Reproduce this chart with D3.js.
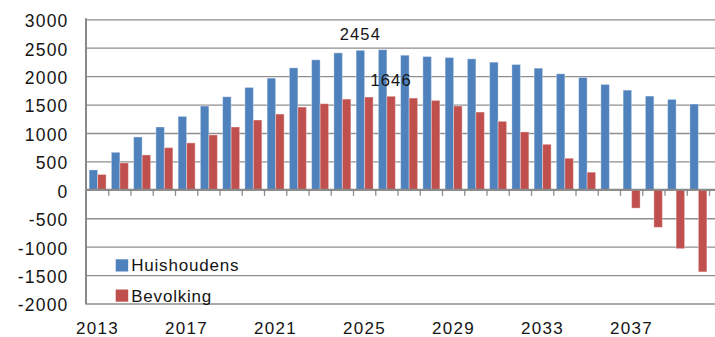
<!DOCTYPE html>
<html>
<head>
<meta charset="utf-8">
<script src="https://cdn.jsdelivr.net/npm/d3@7"></script>
<style>
  html, body { margin: 0; padding: 0; background: #fff; }
  svg { display: block; }
  text { font-family: "Liberation Sans", Arial, sans-serif; fill: #141414; }
</style>
</head>
<body>
<svg id="chart" width="715" height="337"></svg>
<script>
// Yearly change in households and population, 2013–2040
const years = d3.range(2013, 2041);
const huishoudens = [350, 660, 930, 1105, 1292, 1474, 1637, 1801, 1965, 2146,
  2287, 2409, 2454, 2465, 2368, 2345, 2328, 2304, 2246, 2205,
  2140, 2041, 1977, 1854, 1754, 1649, 1591, 1509];
const bevolking = [270, 474, 614, 742, 825, 965, 1105, 1228, 1333, 1456,
  1515, 1596, 1632, 1646, 1614, 1573, 1474, 1368, 1205, 1018,
  801, 556, 310, 10, -322, -661, -1035, -1444];
const seriesNames = ["Huishoudens", "Bevolking"];
const seriesColors = ["#4F81BD", "#C0504D"];
const yTicks = [-2000, -1500, -1000, -500, 0, 500, 1000, 1500, 2000, 2500, 3000];
const xTickLabels = [2013, 2017, 2021, 2025, 2029, 2033, 2037];
// values printed above their bars
const annotations = [
  { year: 2025, series: "Huishoudens", value: 2454 },
  { year: 2026, series: "Bevolking", value: 1646 }
];

const svg = d3.select("#chart");
const plotLeft = 86.5, plotRight = 709.5, plotTop = 19.3, plotBottom = 303.5;

const x0 = d3.scaleBand().domain(years).range([plotLeft, plotRight]).padding(0);
const x1 = d3.scaleBand().domain(seriesNames).range([0, x0.bandwidth()])
  .paddingInner(0).paddingOuter(0.31);
const y = d3.scaleLinear().domain([-2000, 3000]).range([plotBottom, plotTop]);

// plain integer labels with an ASCII hyphen for negatives
const plainNumber = d => String(d);

// horizontal gridlines
const grid = svg.append("g").attr("transform", `translate(${plotLeft},0)`)
  .call(d3.axisLeft(y).tickValues(yTicks).tickSize(-(715 - plotLeft)).tickFormat(""));
grid.select(".domain").remove();
grid.selectAll(".tick line").attr("stroke", "#8e8e8e").attr("stroke-width", 1.3);

// y axis labels
const yAxis = svg.append("g").attr("transform", `translate(${plotLeft},0)`)
  .call(d3.axisLeft(y).tickValues(yTicks).tickSize(0).tickPadding(18).tickFormat(plainNumber));
yAxis.select(".domain").remove();
yAxis.selectAll("text")
  .attr("font-size", 17.5).attr("letter-spacing", 1.2).attr("dy", "0.42em")
  .style("font-family", "'Liberation Sans', Arial, sans-serif").attr("fill", "#141414");

// bars
const data = years.map((yr, i) => ({ year: yr, values: [huishoudens[i], bevolking[i]] }));
const groups = svg.append("g").selectAll("g").data(data).join("g")
  .attr("transform", d => `translate(${x0(d.year)},0)`);
groups.selectAll("rect")
  .data(d => d.values.map((v, k) => ({ name: seriesNames[k], value: v, k })))
  .join("rect")
  .attr("x", d => x1(d.name))
  .attr("width", x1.bandwidth())
  .attr("y", d => y(Math.max(0, d.value)))
  .attr("height", d => Math.abs(y(d.value) - y(0)))
  .attr("fill", d => seriesColors[d.k])
  .attr("stroke", "#ffffff").attr("stroke-opacity", 0.35).attr("stroke-width", 1);

// left axis line
svg.append("line")
  .attr("x1", plotLeft - 0.5).attr("x2", plotLeft - 0.5).attr("y1", plotTop - 1).attr("y2", plotBottom + 1)
  .attr("stroke", "#8a8a8a").attr("stroke-width", 2);

// zero line with category ticks
svg.append("line")
  .attr("x1", plotLeft - 0.5).attr("x2", 715).attr("y1", y(0)).attr("y2", y(0))
  .attr("stroke", "#8a8a8a").attr("stroke-width", 2);
svg.append("g").selectAll("line").data(years).join("line")
  .attr("x1", d => x0(d) + x0.step()).attr("x2", d => x0(d) + x0.step())
  .attr("y1", y(0)).attr("y2", y(0) + 6)
  .attr("stroke", "#8a8a8a").attr("stroke-width", 1.3);

// year labels along the bottom
const xAxis = svg.append("g").attr("transform", `translate(0,${plotBottom})`)
  .call(d3.axisBottom(x0).tickValues(xTickLabels).tickSize(0).tickPadding(18).tickFormat(plainNumber));
xAxis.select(".domain").remove();
xAxis.selectAll("text")
  .attr("font-size", 17).attr("letter-spacing", 1.3)
  .style("font-family", "'Liberation Sans', Arial, sans-serif").attr("fill", "#141414");

// value labels
svg.append("g").selectAll("text").data(annotations).join("text")
  .attr("x", d => x0(d.year) + x1(d.series) + x1.bandwidth() / 2)
  .attr("y", d => y(d.value) - 10)
  .attr("text-anchor", "middle")
  .attr("font-size", 16.5).attr("letter-spacing", 1.1)
  .text(d => d.value);

// legend
const legend = svg.append("g").selectAll("g").data(seriesNames).join("g")
  .attr("transform", (d, i) => `translate(115.7,${259.3 + i * 30.2})`);
legend.append("rect").attr("width", 12.5).attr("height", 12.2)
  .attr("fill", (d, i) => seriesColors[i]);
legend.append("text").attr("x", 15.5).attr("y", 12.1)
  .attr("font-size", 17).attr("letter-spacing", 0.8)
  .text(d => d);
</script>
</body>
</html>
